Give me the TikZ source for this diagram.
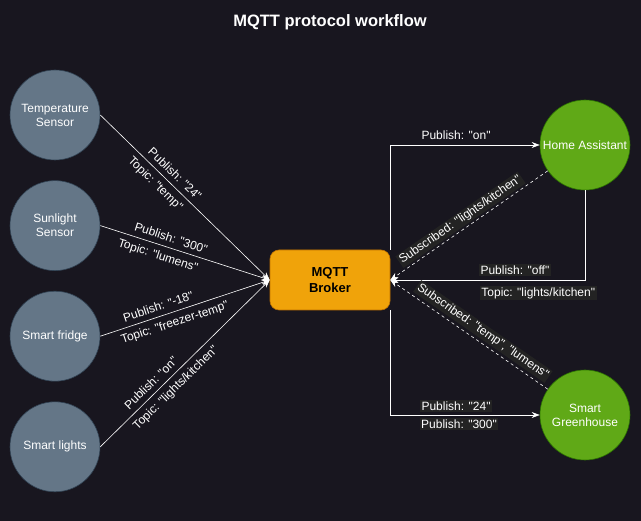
\documentclass[tikz,border=0pt]{standalone}
\usepackage{fontspec}
\setmainfont{Liberation Sans}[Ligatures=TeXOff]
\usetikzlibrary{arrows,arrows.meta,positioning}
\definecolor{canvas}{HTML}{18161F}
\definecolor{lblbg}{HTML}{232323}
\definecolor{devfill}{HTML}{647687}
\definecolor{devline}{HTML}{314354}
\definecolor{hubfill}{HTML}{60A917}
\definecolor{hubline}{HTML}{2D7600}
\definecolor{brkfill}{HTML}{F0A30A}
\definecolor{brkline}{HTML}{BD7000}

\begin{document}
\begin{tikzpicture}[x=1pt,y=-1pt,->,>={Stealth[length=8pt,width=6pt]},semithick,
                    white,font=\fontsize{12}{14}\selectfont]
  \tikzstyle{device}=[circle,fill=devfill,draw=devline,minimum size=90pt,inner sep=0pt,
                      align=center,text=white,font=\fontsize{12}{14}\selectfont]
  \tikzstyle{hub}=[device,fill=hubfill,draw=hubline]
  \tikzstyle{broker}=[rectangle,rounded corners=9pt,fill=brkfill,draw=brkline,
                      minimum width=120pt,minimum height=60pt,align=center,text=black,
                      font=\bfseries\fontsize{13}{16}\selectfont]
  \tikzstyle{lbl}=[fill=lblbg,inner sep=1.5pt]

  \fill[canvas] (0,0) rectangle (641,521);
  \useasboundingbox (0,0) rectangle (641,521);

  \node[font=\bfseries\fontsize{16.5}{20}\selectfont] (title) at (330,22) {MQTT protocol workflow};

  \node[device] (T) at (55,115)      {Temperature\\Sensor};
  \node[device] (S) [below=20pt of T] {Sunlight\\Sensor};
  \node[device] (F) [below=20pt of S] {Smart fridge};
  \node[device] (L) [below=20pt of F] {Smart lights};

  \node[broker] (B) at (330,280) {MQTT\\Broker};
  \node[hub] (HA) at (585,145) {Home Assistant};
  \node[hub] (GH) at (585,415) {Smart\\Greenhouse};

  \path (T.east) edge node[sloped,above=2pt,pos=0.4] {Publish: "24"}
                      node[sloped,below=2pt,pos=0.37] {Topic: "temp"} (B.west)
        (S.east) edge node[sloped,above=2pt,pos=0.4] {Publish: "300"}
                      node[sloped,below=2pt,pos=0.36] {Topic: "lumens"} (B.west)
        (F.east) edge node[sloped,above=2pt,pos=0.36] {Publish: "-18"}
                      node[sloped,below=2pt,pos=0.42] {Topic: "freezer-temp"} (B.west)
        (L.east) edge node[sloped,above=2pt,pos=0.34] {Publish: "on"}
                      node[sloped,below=2pt,pos=0.4] {Topic: "lights/kitchen"} (B.west);

  \draw (B.north east) |- node[pos=0.72,above=2pt] {Publish: "on"} (HA.west);
  \draw (B.south east) |- node[pos=0.72,above=3pt,lbl] {Publish: "24"}
                          node[pos=0.73,below=3pt,lbl] {Publish: "300"} (GH.west);
  \draw (HA.south) |- node[pos=0.68,above=4pt,lbl] {Publish: "off"}
                      node[pos=0.62,below=6pt,lbl] {Topic: "lights/kitchen"} (B.east);

  \path (HA) edge[dashed] node[sloped,above=2pt,pos=0.52,lbl] {Subscribed: "lights/kitchen"} (B.east)
        (GH) edge[dashed] node[sloped,above=3pt,pos=0.45,lbl] {Subscribed: "temp", "lumens"} (B.east);
\end{tikzpicture}
\end{document}
